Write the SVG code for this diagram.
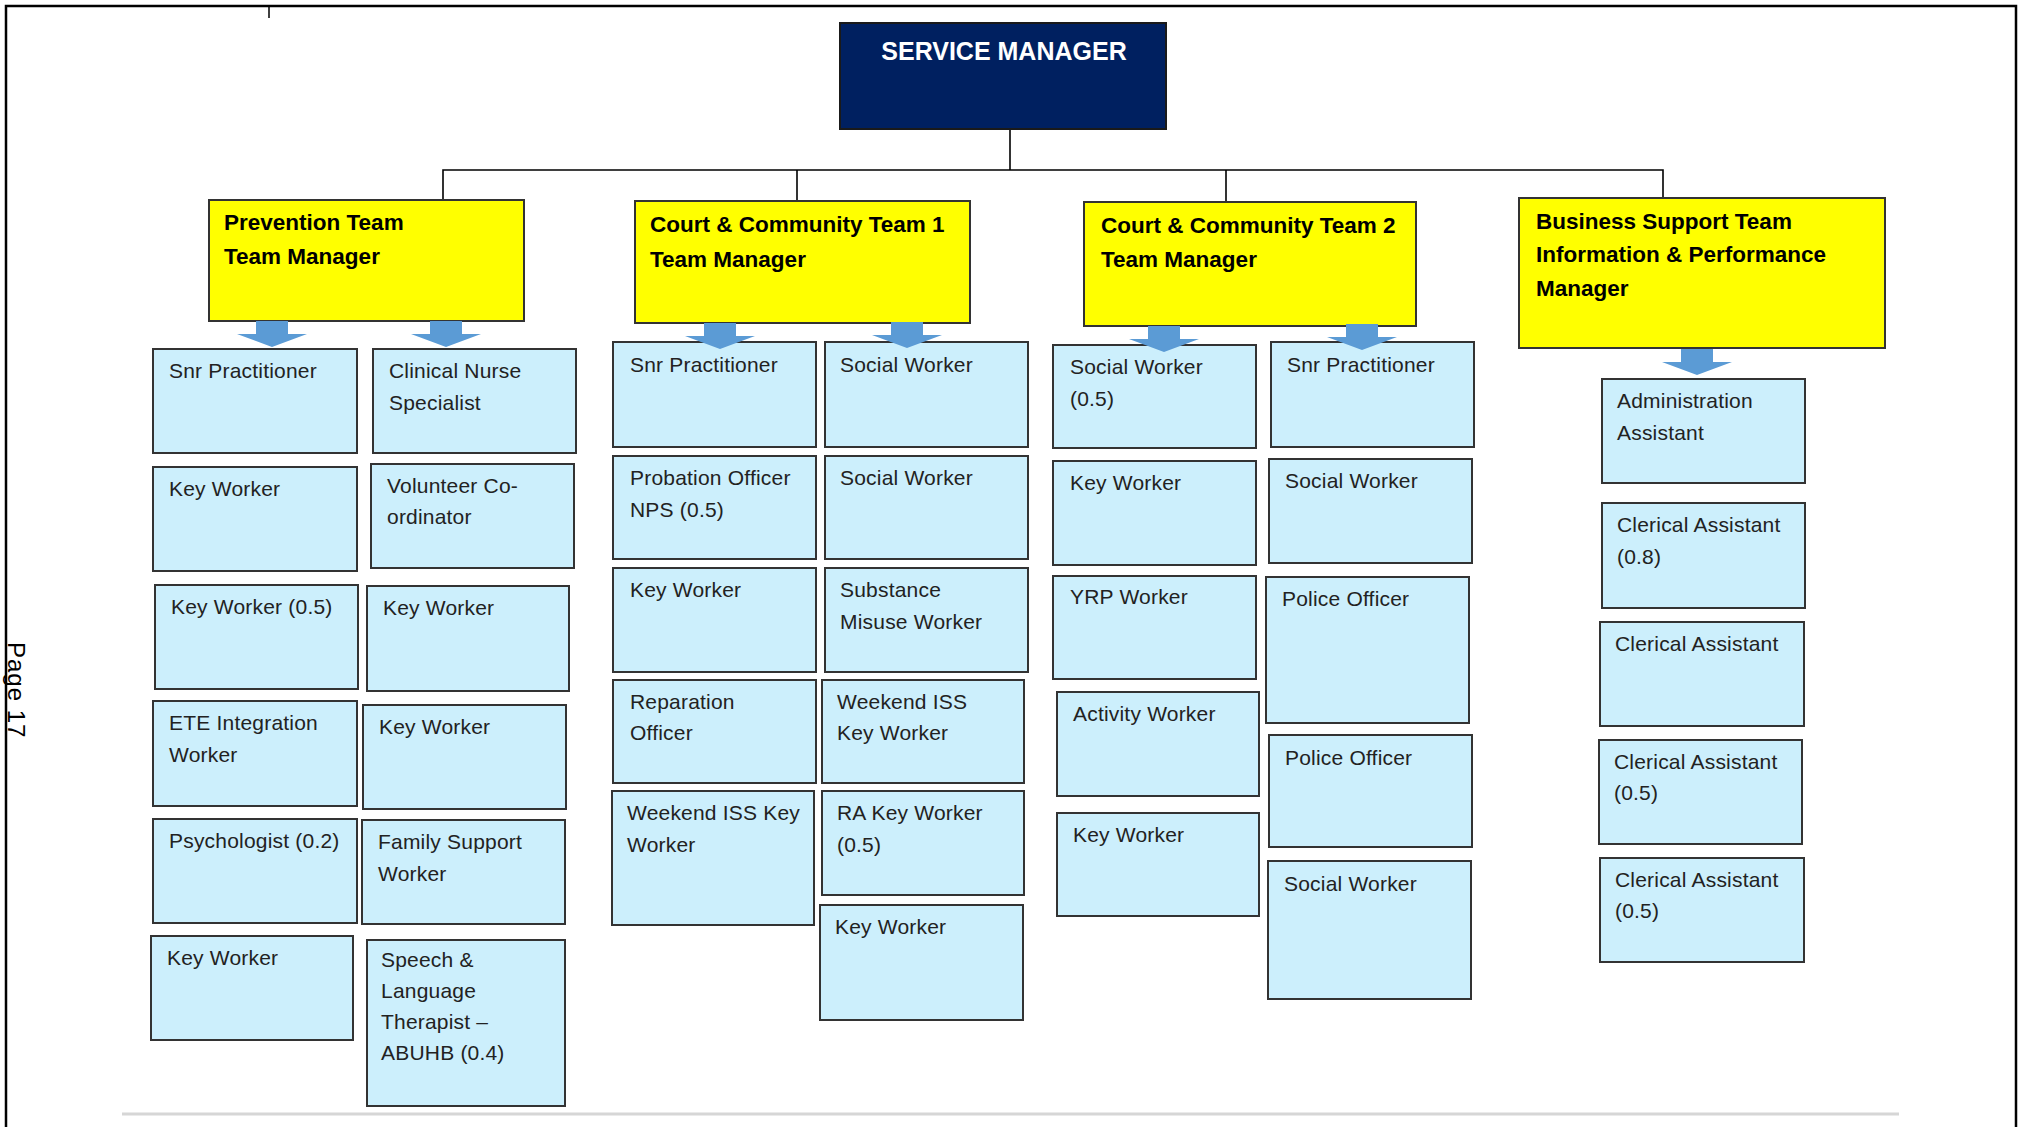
<svg xmlns="http://www.w3.org/2000/svg" xmlns:xlink="http://www.w3.org/1999/xlink" width="2020" height="1127" viewBox="0 0 2020 1127">
<style>
.frame{stroke:#000;stroke-width:2.5;fill:none}
.conn{stroke:#000;stroke-width:1.6;fill:none}
.top{fill:#002060;stroke:#1a1a1a;stroke-width:2}
.mgr{fill:#FFFF00;stroke:#333;stroke-width:2}
.staff{fill:#CCEFFC;stroke:#333;stroke-width:2}
.t-top{font-family:"Liberation Sans",Arial,sans-serif;font-weight:bold;font-size:25px;fill:#fff}
.t-mgr{font-family:"Liberation Sans",Arial,sans-serif;font-weight:bold;font-size:22.5px;fill:#000}
.t-staff{font-family:"Liberation Sans",Arial,sans-serif;font-size:21px;letter-spacing:0.2px;fill:#222}
.arrow{fill:#5B9BD5}
</style>
<defs>
<path id="arr" d="M-16,0 H16 V13 H35 L0,26 L-35,13 H-16 Z"/>
</defs>
<rect width="2020" height="1127" fill="#fff"/>
<g id="page">
<path class="frame" d="M6,1127 V6 H2016 V1127"/>
<line x1="269" y1="6" x2="269" y2="18" stroke="#000" stroke-width="1.5"/>
<line x1="122" y1="1114" x2="1899" y2="1114" stroke="#d6d6d6" stroke-width="3"/>
<text transform="translate(8,642) rotate(90)" font-family="Liberation Sans,Arial,sans-serif" font-size="24" letter-spacing="1" fill="#000">Page 17</text>
</g>
<g id="connectors">
<path class="conn" d="M1010,129 V170"/>
<path class="conn" d="M443,200 V170 H1663 V198"/>
<path class="conn" d="M797,170 V202"/>
<path class="conn" d="M1226,170 V203"/>
</g>
<g id="service-manager">
<rect class="top" x="840" y="23" width="326" height="106"/>
<text class="t-top" x="1004" y="60" text-anchor="middle">SERVICE MANAGER</text>
</g>
<g id="prevention-manager">
<rect class="mgr" x="209" y="200" width="315" height="121"/>
<text class="t-mgr" x="224" y="230">Prevention Team</text>
<text class="t-mgr" x="224" y="264">Team Manager</text>
</g>
<g id="court1-manager">
<rect class="mgr" x="635" y="201" width="335" height="122"/>
<text class="t-mgr" x="650" y="232">Court &amp; Community Team 1</text>
<text class="t-mgr" x="650" y="267">Team Manager</text>
</g>
<g id="court2-manager">
<rect class="mgr" x="1084" y="202" width="332" height="124"/>
<text class="t-mgr" x="1101" y="233">Court &amp; Community Team 2</text>
<text class="t-mgr" x="1101" y="267">Team Manager</text>
</g>
<g id="business-manager">
<rect class="mgr" x="1519" y="198" width="366" height="150"/>
<text class="t-mgr" x="1536" y="229">Business Support Team</text>
<text class="t-mgr" x="1536" y="262">Information &amp; Performance</text>
<text class="t-mgr" x="1536" y="296">Manager</text>
</g>
<!-- Prevention team -->
<g id="p1"><rect class="staff" x="153" y="349" width="204" height="104"/><text class="t-staff" x="169" y="378">Snr Practitioner</text></g>
<g id="p2"><rect class="staff" x="153" y="467" width="204" height="104"/><text class="t-staff" x="169" y="496">Key Worker</text></g>
<g id="p3"><rect class="staff" x="155" y="585" width="203" height="104"/><text class="t-staff" x="171" y="614">Key Worker (0.5)</text></g>
<g id="p4"><rect class="staff" x="153" y="701" width="204" height="105"/><text class="t-staff" x="169" y="730">ETE Integration</text><text class="t-staff" x="169" y="762">Worker</text></g>
<g id="p5"><rect class="staff" x="153" y="819" width="204" height="104"/><text class="t-staff" x="169" y="848">Psychologist (0.2)</text></g>
<g id="p6"><rect class="staff" x="151" y="936" width="202" height="104"/><text class="t-staff" x="167" y="965">Key Worker</text></g>
<g id="p7"><rect class="staff" x="373" y="349" width="203" height="104"/><text class="t-staff" x="389" y="378">Clinical Nurse</text><text class="t-staff" x="389" y="410">Specialist</text></g>
<g id="p8"><rect class="staff" x="371" y="464" width="203" height="104"/><text class="t-staff" x="387" y="493">Volunteer Co-</text><text class="t-staff" x="387" y="524">ordinator</text></g>
<g id="p9"><rect class="staff" x="367" y="586" width="202" height="105"/><text class="t-staff" x="383" y="615">Key Worker</text></g>
<g id="p10"><rect class="staff" x="363" y="705" width="203" height="104"/><text class="t-staff" x="379" y="734">Key Worker</text></g>
<g id="p11"><rect class="staff" x="362" y="820" width="203" height="104"/><text class="t-staff" x="378" y="849">Family Support</text><text class="t-staff" x="378" y="881">Worker</text></g>
<g id="p12"><rect class="staff" x="367" y="940" width="198" height="166"/><text class="t-staff" x="381" y="967">Speech &amp;</text><text class="t-staff" x="381" y="998">Language</text><text class="t-staff" x="381" y="1029">Therapist –</text><text class="t-staff" x="381" y="1060">ABUHB (0.4)</text></g>
<!-- Court & Community Team 1 -->
<g id="c1"><rect class="staff" x="613" y="342" width="203" height="105"/><text class="t-staff" x="630" y="372">Snr Practitioner</text></g>
<g id="c2"><rect class="staff" x="613" y="456" width="203" height="103"/><text class="t-staff" x="630" y="485">Probation Officer</text><text class="t-staff" x="630" y="517">NPS (0.5)</text></g>
<g id="c3"><rect class="staff" x="613" y="568" width="203" height="104"/><text class="t-staff" x="630" y="597">Key Worker</text></g>
<g id="c4"><rect class="staff" x="613" y="680" width="203" height="103"/><text class="t-staff" x="630" y="709">Reparation</text><text class="t-staff" x="630" y="740">Officer</text></g>
<g id="c5"><rect class="staff" x="612" y="791" width="202" height="134"/><text class="t-staff" x="627" y="820">Weekend ISS Key</text><text class="t-staff" x="627" y="852">Worker</text></g>
<g id="c6"><rect class="staff" x="825" y="342" width="203" height="105"/><text class="t-staff" x="840" y="372">Social Worker</text></g>
<g id="c7"><rect class="staff" x="825" y="456" width="203" height="103"/><text class="t-staff" x="840" y="485">Social Worker</text></g>
<g id="c8"><rect class="staff" x="825" y="568" width="203" height="104"/><text class="t-staff" x="840" y="597">Substance</text><text class="t-staff" x="840" y="629">Misuse Worker</text></g>
<g id="c9"><rect class="staff" x="822" y="680" width="202" height="103"/><text class="t-staff" x="837" y="709">Weekend ISS</text><text class="t-staff" x="837" y="740">Key Worker</text></g>
<g id="c10"><rect class="staff" x="822" y="791" width="202" height="104"/><text class="t-staff" x="837" y="820">RA Key Worker</text><text class="t-staff" x="837" y="852">(0.5)</text></g>
<g id="c11"><rect class="staff" x="820" y="905" width="203" height="115"/><text class="t-staff" x="835" y="934">Key Worker</text></g>
<!-- Court & Community Team 2 -->
<g id="d1"><rect class="staff" x="1053" y="345" width="203" height="103"/><text class="t-staff" x="1070" y="374">Social Worker</text><text class="t-staff" x="1070" y="406">(0.5)</text></g>
<g id="d2"><rect class="staff" x="1053" y="461" width="203" height="104"/><text class="t-staff" x="1070" y="490">Key Worker</text></g>
<g id="d3"><rect class="staff" x="1053" y="576" width="203" height="103"/><text class="t-staff" x="1070" y="604">YRP Worker</text></g>
<g id="d4"><rect class="staff" x="1057" y="692" width="202" height="104"/><text class="t-staff" x="1073" y="721">Activity Worker</text></g>
<g id="d5"><rect class="staff" x="1057" y="813" width="202" height="103"/><text class="t-staff" x="1073" y="842">Key Worker</text></g>
<g id="d6"><rect class="staff" x="1271" y="342" width="203" height="105"/><text class="t-staff" x="1287" y="372">Snr Practitioner</text></g>
<g id="d7"><rect class="staff" x="1269" y="459" width="203" height="104"/><text class="t-staff" x="1285" y="488">Social Worker</text></g>
<g id="d8"><rect class="staff" x="1266" y="577" width="203" height="146"/><text class="t-staff" x="1282" y="606">Police Officer</text></g>
<g id="d9"><rect class="staff" x="1269" y="735" width="203" height="112"/><text class="t-staff" x="1285" y="765">Police Officer</text></g>
<g id="d10"><rect class="staff" x="1268" y="861" width="203" height="138"/><text class="t-staff" x="1284" y="891">Social Worker</text></g>
<!-- Business Support -->
<g id="b1"><rect class="staff" x="1602" y="379" width="203" height="104"/><text class="t-staff" x="1617" y="408">Administration</text><text class="t-staff" x="1617" y="440">Assistant</text></g>
<g id="b2"><rect class="staff" x="1602" y="503" width="203" height="105"/><text class="t-staff" x="1617" y="532">Clerical Assistant</text><text class="t-staff" x="1617" y="564">(0.8)</text></g>
<g id="b3"><rect class="staff" x="1600" y="622" width="204" height="104"/><text class="t-staff" x="1615" y="651">Clerical Assistant</text></g>
<g id="b4"><rect class="staff" x="1599" y="740" width="203" height="104"/><text class="t-staff" x="1614" y="769">Clerical Assistant</text><text class="t-staff" x="1614" y="800">(0.5)</text></g>
<g id="b5"><rect class="staff" x="1600" y="858" width="204" height="104"/><text class="t-staff" x="1615" y="887">Clerical Assistant</text><text class="t-staff" x="1615" y="918">(0.5)</text></g>
<g id="arrows" class="arrow">
<use xlink:href="#arr" href="#arr" transform="translate(272,321)"/>
<use xlink:href="#arr" href="#arr" transform="translate(446,321)"/>
<use xlink:href="#arr" href="#arr" transform="translate(720,323)"/>
<use xlink:href="#arr" href="#arr" transform="translate(907,322)"/>
<use xlink:href="#arr" href="#arr" transform="translate(1164,326)"/>
<use xlink:href="#arr" href="#arr" transform="translate(1362,324)"/>
<use xlink:href="#arr" href="#arr" transform="translate(1697,349)"/>
</g>
</svg>
